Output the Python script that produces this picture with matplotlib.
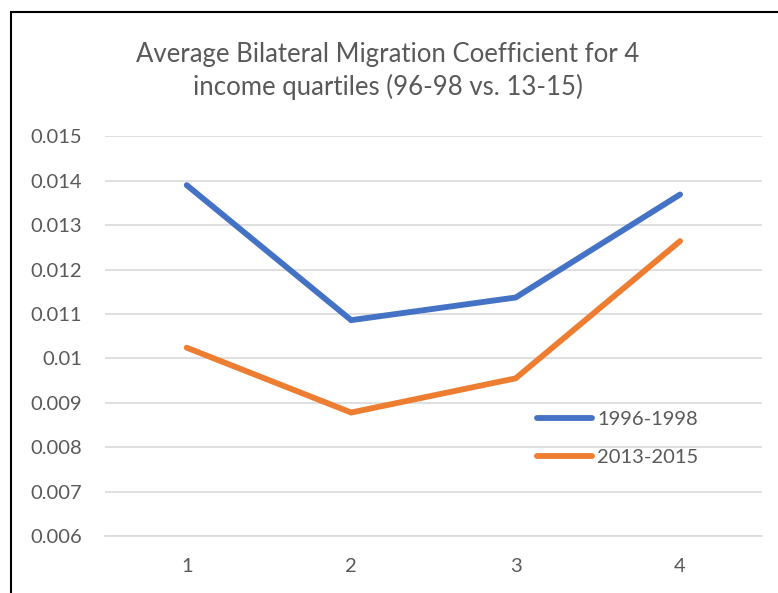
import matplotlib.pyplot as plt
from matplotlib.patches import Rectangle

quartiles = [1, 2, 3, 4]
period_a = [0.0139, 0.01086, 0.01137, 0.01369]
period_b = [0.01024, 0.00878, 0.00955, 0.01264]
labels = ["1996-1998", "2013-2015"]
yticks = [0.006, 0.007, 0.008, 0.009, 0.01, 0.011, 0.012, 0.013, 0.014, 0.015]
title = "Average Bilateral Migration Coefficient for 4\nincome quartiles (96-98 vs. 13-15)"

plt.rcParams['font.family'] = ['Lato', 'DejaVu Sans']
txt = '#595959'

fig = plt.figure(figsize=(7.78, 5.93), dpi=100)
ax = fig.add_axes([104.5 / 778, 1 - 536 / 593, (762.3 - 104.5) / 778, (536 - 136.3) / 593])

p1, = ax.plot(quartiles, period_a, color='#4472C4', lw=4.2, solid_capstyle='round',
              solid_joinstyle='miter', label=labels[0], zorder=3)
p2, = ax.plot(quartiles, period_b, color='#ED7D31', lw=4.2, solid_capstyle='round',
              solid_joinstyle='miter', label=labels[1], zorder=3)

ax.set_xlim(0.5, 4.5)
ax.set_ylim(0.006, 0.015)
ax.set_xticks(quartiles)
ax.set_yticks(yticks)
ax.set_yticklabels([f"{v:g}" for v in yticks])
ax.grid(axis='y', color='#d9d9d9', lw=1.2)
ax.set_axisbelow(True)
for s in ['top', 'right', 'left']:
    ax.spines[s].set_visible(False)
ax.spines['bottom'].set_color('#d9d9d9')
ax.spines['bottom'].set_linewidth(1.2)
ax.tick_params(axis='both', length=0, labelsize=14.5, colors=txt)
ax.tick_params(axis='y', pad=16)
ax.tick_params(axis='x', pad=16)

fig.text(388 / 778, 1 - 71 / 593, title, ha='center', va='center', fontsize=18.5,
         color=txt, linespacing=1.37)

leg = ax.legend(handles=[p1, p2], loc='upper left',
                bbox_to_anchor=((529 - 104.5) / 657.8, 1 - (403 - 136.3) / 399.7),
                frameon=False, fontsize=14.5, handlelength=2.75, handletextpad=0.25,
                labelspacing=1.05, borderaxespad=0)
for t in leg.get_texts():
    t.set_color(txt)

fig.patches.append(Rectangle((11 / 778, -0.1), 2, 1.1 - 12 / 593, transform=fig.transFigure,
                             fill=False, edgecolor='black', lw=1.5))

fig.savefig('out.png', dpi=100)
